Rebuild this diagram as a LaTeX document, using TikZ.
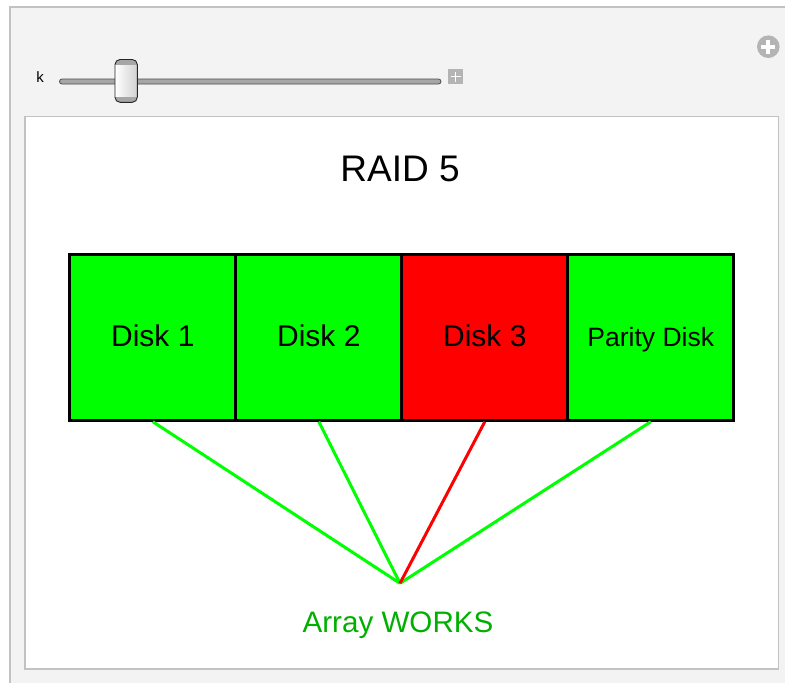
\documentclass[tikz,border=0pt]{standalone}
\usepackage{fontspec}
\setmainfont{Liberation Sans}
\definecolor{panelbg}{HTML}{F3F3F3}
\definecolor{framegray}{HTML}{C2C2C2}
\definecolor{okgreen}{HTML}{00FF00}
\definecolor{badred}{HTML}{FF0000}
\definecolor{msggreen}{HTML}{00B000}
\definecolor{btngray}{HTML}{B4B4B4}
\tikzset{
  diskcell/.style={draw=black, line width=3pt, minimum width=166pt, minimum height=166pt,
    inner sep=0pt, text height=18pt, text depth=0pt, anchor=north west},
  disklabel/.style={font=\fontsize{30}{30}\selectfont},
  paritylabel/.style={font=\fontsize{26.5}{26.5}\selectfont},
  link/.style={line width=3pt},
}
\begin{document}
\begin{tikzpicture}[x=1pt,y=-1pt]
\useasboundingbox (0,0) rectangle (785,683);
\fill[white] (0,0) rectangle (785,683);
% outer panel
\draw[framegray, fill=panelbg, line width=2pt] (9.5,7) rectangle (800,700);
% inner panel
\draw[framegray, fill=white, line width=1.5pt] (25,116.5) rectangle (778.3,669);
% slider
\node[anchor=base, font=\fontsize{15}{15}\selectfont, inner sep=0pt] (klabel) at (40,82.5) {k};
\draw[fill=gray!70, draw=black!70, line width=0.8pt, rounded corners=2.5pt] (59.5,79) rectangle (441,84);
\begin{scope}
  \clip[rounded corners=5pt] (115,59.5) rectangle (137.3,102.3);
  \shade[left color=white, right color=black!18] (115,59.5) rectangle (137.3,102.3);
  \fill[black!35] (115,59.5) rectangle (137.3,65);
  \fill[black!35] (115,97) rectangle (137.3,102.3);
\end{scope}
\draw[black!85, line width=0.9pt, rounded corners=5pt] (115,59.5) rectangle (137.3,102.3);
% small plus box
\fill[btngray] (448,69.3) rectangle (463,84);
\draw[white, line width=1.6pt] (450.5,76.6) -- (460.5,76.6) (455.5,71.6) -- (455.5,81.6);
% circle plus
\fill[btngray] (768.3,46.7) circle (11.3pt);
\draw[white, line width=3.8pt] (761.3,46.7) -- (775.3,46.7) (768.3,39.7) -- (768.3,53.7);
% title
\node[anchor=base, font=\fontsize{37}{37}\selectfont, inner sep=0pt] (title) at (400,181.5) {RAID 5};
% hub point
\coordinate (hub) at (400,583.3);
% disks (positions)
\coordinate (p1) at (68.3,252.7);
\coordinate (p2) at (234.3,252.7);
\coordinate (p3) at (400.3,252.7);
\coordinate (p4) at (566.3,252.7);
\node[diskcell, fill=okgreen, disklabel] (d1) at (p1) {Disk 1};
\node[diskcell, fill=okgreen, disklabel] (d2) at (p2) {Disk 2};
\node[diskcell, fill=badred, disklabel] (d3) at (p3) {Disk 3};
\node[diskcell, fill=okgreen, paritylabel] (d4) at (p4) {Parity Disk};
% connectors
\draw[link, okgreen] (d1.south) -- (hub);
\draw[link, okgreen] (d2.south) -- (hub);
\draw[link, okgreen] (d4.south) -- (hub);
\draw[link, badred] (d3.south) -- (hub);
% status
\node[anchor=base, text=msggreen, font=\fontsize{29.6}{29.6}\selectfont, inner sep=0pt] (status) at (398,632.7) {Array WORKS};
\end{tikzpicture}
\end{document}
